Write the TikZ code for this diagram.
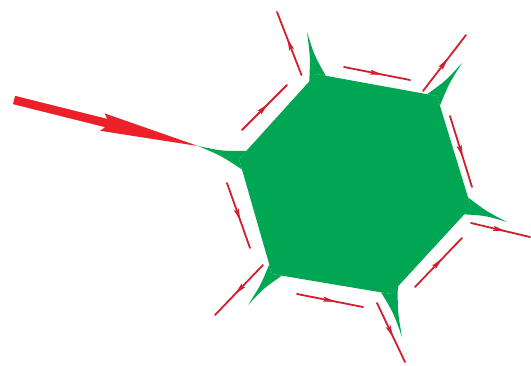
\documentclass[tikz,border=0pt]{standalone}
\usetikzlibrary{calc,arrows.meta,decorations.markings}
\definecolor{hexgreen}{RGB}{0,166,81}
\definecolor{bigred}{RGB}{236,32,40}
\definecolor{smallred}{RGB}{208,32,45}
\tikzset{
  smallarrow/.style={draw=smallred, line width=1.8pt, line cap=round,
    postaction={decorate},
    decoration={markings, mark=at position 0.58 with {\arrow[smallred]{Stealth[length=12pt,width=5pt,inset=2pt]}}}},
  hexfill/.style={fill=hexgreen},
  bigarrow/.style={fill=bigred},
}
\newcommand{\greenspike}[5]{%
  \coordinate (sbA) at ($(#1)!#5!(#2)$);
  \coordinate (sbB) at ($(#1)!#5!(#3)$);
  \coordinate (sax) at ($(#1)!0.45!(#4)$);
  \coordinate (scA) at ($(sbA)!0.45!(#4)$);
  \coordinate (scB) at ($(sbB)!0.45!(#4)$);
  \fill[hexfill] (sbA) .. controls ($(scA)!0.55!(sax)$) .. (#4)
     .. controls ($(scB)!0.55!(sax)$) .. (sbB) -- (#1) -- cycle;}
\begin{document}
\begin{tikzpicture}[x=1pt,y=-1pt]
\useasboundingbox (0,0) rectangle (531,365);
% hexagon vertices
\coordinate (V1) at (239,159);
\coordinate (V2) at (316,74);
\coordinate (V3) at (437,96);
\coordinate (V4) at (471,207);
\coordinate (V5) at (391,294);
\coordinate (V6) at (272,274);
% spike tips
\coordinate (T1) at (198,146);
\coordinate (T2) at (307,32);
\coordinate (T3) at (462,63);
\coordinate (T4) at (507,222);
\coordinate (T5) at (402,337);
\coordinate (T6) at (248,305);
% hexagon
\fill[hexfill] (V1) -- (V2) -- (V3) -- (V4) -- (V5) -- (V6) -- cycle;
\greenspike{V1}{V2}{V6}{T1}{11pt}
\greenspike{V2}{V1}{V3}{T2}{10pt}
\greenspike{V3}{V2}{V4}{T3}{10pt}
\greenspike{V4}{V3}{V5}{T4}{10pt}
\greenspike{V5}{V4}{V6}{T5}{10pt}
\greenspike{V6}{V5}{V1}{T6}{10pt}
% big arrow
\coordinate (A) at (14,100);
\coordinate (B) at ($(A)!95pt!(T1)$);
\coordinate (Bb) at ($(A)!91pt!(T1)$);
\fill[bigarrow] ($(A)!4.3pt!90:(T1)$) -- ($(B)!4.3pt!90:(T1)$) -- ($(Bb)!9pt!90:(T1)$)
  -- (T1) -- ($(Bb)!9pt!-90:(T1)$) -- ($(B)!4.3pt!-90:(T1)$) -- ($(A)!4.3pt!-90:(T1)$) -- cycle;
% small arrows: tail and head coordinates
\coordinate (a1s) at (301.5,75);  \coordinate (a1e) at (277,12);
\coordinate (a2s) at (242,130);   \coordinate (a2e) at (287,85);
\coordinate (a3s) at (344,67);    \coordinate (a3e) at (410,80);
\coordinate (a4s) at (423,91);    \coordinate (a4e) at (466,35);
\coordinate (a5s) at (450,116);   \coordinate (a5e) at (472,187);
\coordinate (a6s) at (471,223);   \coordinate (a6e) at (530,237);
\coordinate (a7s) at (415,287);   \coordinate (a7e) at (462,238);
\coordinate (a8s) at (377,303);   \coordinate (a8e) at (405,362);
\coordinate (a9s) at (297,294);   \coordinate (a9e) at (363,307);
\coordinate (a10s) at (263,265);  \coordinate (a10e) at (215,315);
\coordinate (a11s) at (227,183);  \coordinate (a11e) at (250,248);
\foreach \i in {1,...,11} {\draw[smallarrow] (a\i s) -- (a\i e);}
\end{tikzpicture}
\end{document}
